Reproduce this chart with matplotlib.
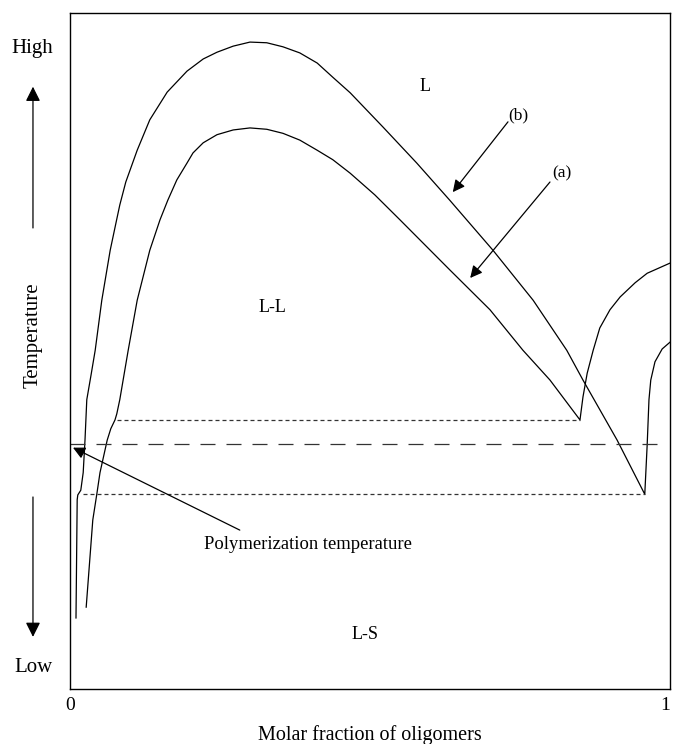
import matplotlib.pyplot as plt

plt.rcParams['font.family'] = ['Liberation Serif', 'DejaVu Serif']

# composition (molar fraction of oligomers) and relative temperature, 0 = low, 100 = high
# curve (a): low-temperature tail, L-L dome, rising liquidus on the oligomer-rich side
curve_a_x = [0.027, 0.038, 0.045, 0.050, 0.062, 0.068, 0.075, 0.078, 0.083, 0.097,
             0.112, 0.133, 0.150, 0.163, 0.178, 0.195, 0.205, 0.222, 0.245, 0.272,
             0.300, 0.328, 0.355, 0.383, 0.412, 0.438, 0.467, 0.508, 0.550, 0.633,
             0.700, 0.755, 0.800, 0.850, 0.855, 0.862, 0.872, 0.883, 0.900, 0.917,
             0.942, 0.962, 1.000]
curve_a_y = [12.1, 25.0, 29.0, 32.0, 36.8, 38.5, 39.8, 40.7, 42.8, 50.1,
             57.5, 64.9, 69.4, 72.3, 75.3, 77.8, 79.3, 80.8, 82.0, 82.7,
             83.0, 82.8, 82.2, 81.2, 79.7, 78.3, 76.3, 73.1, 69.4, 62.0,
             56.1, 50.1, 45.7, 39.8, 43.2, 46.7, 50.1, 53.4, 56.1, 58.0,
             60.1, 61.5, 63.0]

# curve (b): same shape, wider and higher
curve_b_x = [0.010, 0.012, 0.013, 0.018, 0.022, 0.025, 0.028, 0.035, 0.042, 0.053,
             0.067, 0.077, 0.083, 0.093, 0.112, 0.133, 0.162, 0.195, 0.222, 0.245,
             0.272, 0.300, 0.328, 0.355, 0.383, 0.412, 0.438, 0.467, 0.522, 0.578,
             0.633, 0.705, 0.772, 0.828, 0.855, 0.912, 0.958, 0.962, 0.965, 0.968,
             0.975, 0.987, 1.000]
curve_b_y = [10.5, 28.0, 28.7, 29.4, 32.0, 36.8, 42.8, 46.4, 50.1, 57.5,
             64.9, 69.1, 71.6, 75.0, 79.7, 84.2, 88.3, 91.4, 93.2, 94.2,
             95.1, 95.7, 95.6, 95.0, 94.1, 92.6, 90.5, 88.2, 83.1, 77.8,
             72.3, 64.9, 57.5, 50.1, 45.7, 36.8, 28.8, 36.1, 42.8, 45.7,
             48.4, 50.3, 51.3]

# tie lines between coexisting phases
tie_a_x = [0.078, 0.850]
tie_a_y = 39.8
tie_b_x = [0.022, 0.958]
tie_b_y = 28.8

# polymerization temperature
t_poly = 36.3
t_poly_x = [0.0, 0.988]

fig, ax = plt.subplots(figsize=(6.73, 7.44), dpi=100)
fig.subplots_adjust(left=0.104, right=0.9955, bottom=0.074, top=0.9825)

ax.plot(curve_a_x, curve_a_y, color='black', lw=0.9)
ax.plot(curve_b_x, curve_b_y, color='black', lw=0.9)

ax.plot(tie_a_x, [tie_a_y, tie_a_y], color='#333333', lw=0.9, dashes=(3.2, 2.4))
ax.plot(tie_b_x, [tie_b_y, tie_b_y], color='#333333', lw=0.9, dashes=(3.2, 2.4))
ax.plot(t_poly_x, [t_poly, t_poly], color='#333333', lw=0.9, dashes=(12, 8.8))

ax.set_xlim(0, 1)
ax.set_ylim(0, 100)
ax.set_yticks([])
ax.set_xticks([0, 1])
ax.set_xticklabels(['0', '1'])
ax.tick_params(axis='x', length=0, pad=6, labelsize=14)
ax.get_xticklabels()[1].set_horizontalalignment('right')
ax.set_xlabel('Molar fraction of oligomers', fontsize=14.5, labelpad=8)
for sp in ax.spines.values():
    sp.set_linewidth(1.0)

# phase regions
ax.text(0.592, 89.1, 'L', fontsize=13, ha='center', va='center')
ax.text(0.337, 56.5, 'L-L', fontsize=13, ha='center', va='center')
ax.text(0.492, 8.0, 'L-S', fontsize=13, ha='center', va='center')

# curve labels
arrow_kw = dict(arrowstyle='-|>', color='black', lw=0.9, mutation_scale=18,
                shrinkA=0, shrinkB=0)
ax.annotate('', xy=(0.638, 73.5), xytext=(0.730, 83.9), arrowprops=arrow_kw)
ax.text(0.731, 84.9, '(b)', fontsize=12.5, ha='left', va='center')
ax.annotate('', xy=(0.667, 60.8), xytext=(0.800, 75.0), arrowprops=arrow_kw)
ax.text(0.804, 76.3, '(a)', fontsize=12.5, ha='left', va='center')

ax.annotate('', xy=(0.005, 35.7), xytext=(0.283, 23.5), arrowprops=arrow_kw,
            annotation_clip=False)
ax.text(0.397, 21.3, 'Polymerization temperature', fontsize=13.4,
        ha='center', va='center')

# temperature scale on the left
big_arrow = dict(arrowstyle='-|>', color='black', lw=0.9, mutation_scale=22,
                 shrinkA=0, shrinkB=0)
ax.annotate('', xy=(-0.0617, 89.1), xytext=(-0.0617, 68.2), arrowprops=big_arrow,
            annotation_clip=False)
ax.annotate('', xy=(-0.0617, 7.7), xytext=(-0.0617, 28.4), arrowprops=big_arrow,
            annotation_clip=False)
ax.text(-0.063, 94.8, 'High', fontsize=15, ha='center', va='center', clip_on=False)
ax.text(-0.060, 3.1, 'Low', fontsize=15, ha='center', va='center', clip_on=False)
ax.text(-0.0617, 52.4, 'Temperature', fontsize=15, rotation=90,
        ha='center', va='center', clip_on=False)

fig.savefig('out.png', dpi=100)
